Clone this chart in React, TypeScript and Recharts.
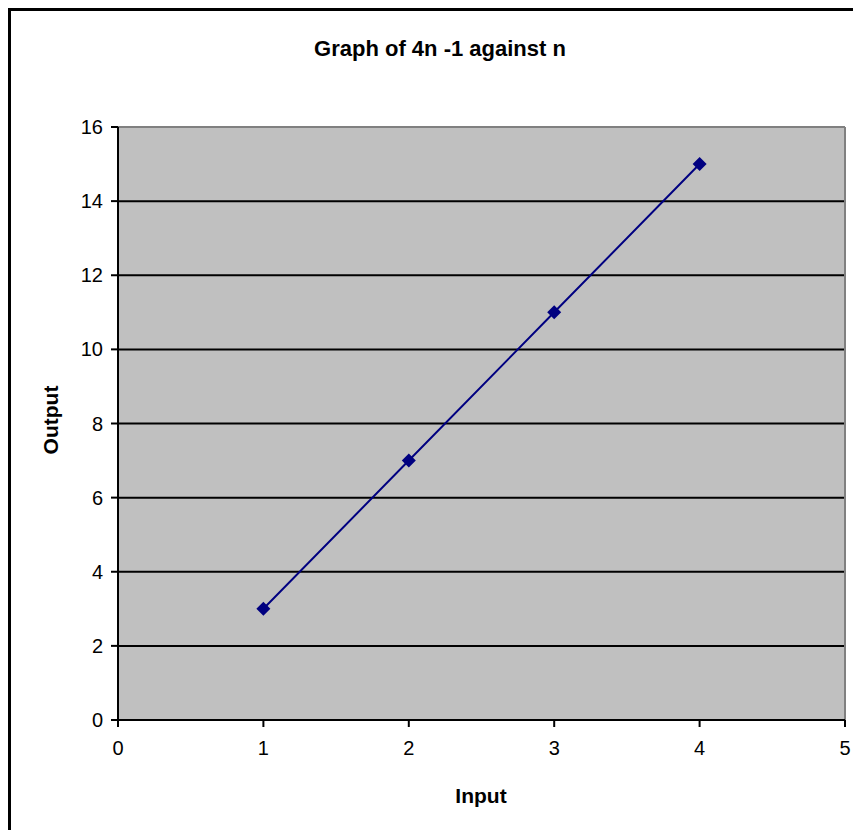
import { LineChart, Line, XAxis, YAxis, CartesianGrid, ReferenceLine, Label } from "recharts";

const inputs = [1, 2, 3, 4];
const outputs = [3, 7, 11, 15];
const xTicks = [0, 1, 2, 3, 4, 5];
const yTicks = [0, 2, 4, 6, 8, 10, 12, 14, 16];

const data = inputs.map((n, i) => ({ n, out: outputs[i] }));

const font = "Arial, 'Liberation Sans', sans-serif";

function Diamond(props: { cx?: number; cy?: number; index?: number }) {
  const { cx, cy, index } = props;
  if (cx == null || cy == null) return null;
  const r = 7;
  return (
    <polygon
      key={index}
      points={`${cx},${cy - r} ${cx + r},${cy} ${cx},${cy + r} ${cx - r},${cy}`}
      fill="#000080"
    />
  );
}

export default function App() {
  return (
    <div
      style={{
        width: 853,
        height: 822,
        borderTop: "3px solid #000",
        borderLeft: "3px solid #000",
        boxSizing: "border-box",
        fontFamily: font,
        position: "relative",
      }}
    >
      <LineChart
        width={853}
        height={822}
        data={data}
        margin={{ top: 119, right: 16, left: 0, bottom: 50 }}
        style={{ position: "absolute", left: -3, top: -3 }}
      >
        <CartesianGrid vertical={false} stroke="#000" strokeWidth={2} fill="#c0c0c0" fillOpacity={1} />
        <XAxis
          type="number"
          dataKey="n"
          domain={[0, 5]}
          ticks={xTicks}
          interval={0}
          height={60}
          axisLine={{ stroke: "#000", strokeWidth: 2 }}
          tickLine={{ stroke: "#000", strokeWidth: 2 }}
          tickSize={7}
          tickMargin={14}
          tick={{ fill: "#000", fontSize: 20, fontFamily: font }}
        >
          <Label
            content={() => (
              <text x={473} y={787} textAnchor="middle" dominantBaseline="central" fontSize={21} fontWeight="bold" fontFamily={font} fill="#000">
                Input
              </text>
            )}
          />
        </XAxis>
        <YAxis
          type="number"
          domain={[0, 16]}
          ticks={yTicks}
          interval={0}
          width={110}
          axisLine={{ stroke: "#000", strokeWidth: 2 }}
          tickLine={{ stroke: "#000", strokeWidth: 2 }}
          tickSize={7}
          tickMargin={8}
          tick={{ fill: "#000", fontSize: 20, fontFamily: font }}
        >
          <Label
            content={() => (
              <text
                x={42}
                y={412}
                transform="rotate(-90 42 412)"
                textAnchor="middle"
                dominantBaseline="central"
                fontSize={21}
                fontWeight="bold"
                fontFamily={font}
                fill="#000"
              >
                Output
              </text>
            )}
          />
        </YAxis>
        <ReferenceLine y={16} stroke="#808080" strokeWidth={2} ifOverflow="extendDomain" />
        <ReferenceLine x={5} stroke="#808080" strokeWidth={2} />
        <Line
          type="linear"
          dataKey="out"
          stroke="#000080"
          strokeWidth={2}
          dot={(p: any) => <Diamond key={p.index} cx={p.cx} cy={p.cy} index={p.index} />}
          activeDot={false}
          isAnimationActive={false}
        />
        <text x={432} y={48} textAnchor="middle" fontSize={22} fontWeight="bold" fontFamily={font} fill="#000">
          Graph of 4n -1 against n
        </text>
      </LineChart>
    </div>
  );
}
